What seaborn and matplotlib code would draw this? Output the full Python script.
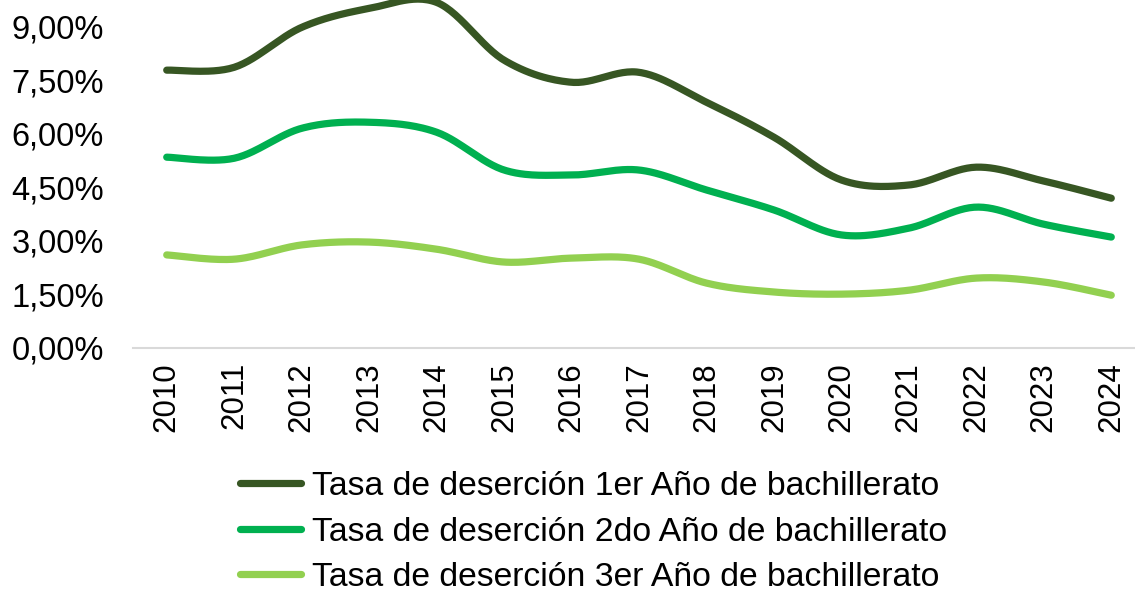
import numpy as np
import pandas as pd
import matplotlib
matplotlib.use("Agg")
import matplotlib.pyplot as plt
import seaborn as sns

years = ["2010", "2011", "2012", "2013", "2014", "2015", "2016", "2017",
         "2018", "2019", "2020", "2021", "2022", "2023", "2024"]
tasa_1er = [7.79, 7.87, 8.99, 9.52, 9.69, 8.07, 7.45, 7.73, 6.89, 5.91, 4.71, 4.57, 5.07, 4.68, 4.20]
tasa_2do = [5.35, 5.32, 6.16, 6.33, 6.05, 4.99, 4.85, 4.99, 4.43, 3.87, 3.17, 3.36, 3.95, 3.47, 3.11]
tasa_3er = [2.61, 2.49, 2.89, 2.97, 2.77, 2.41, 2.52, 2.49, 1.82, 1.57, 1.51, 1.62, 1.96, 1.85, 1.48]
labels = ["Tasa de deserción 1er Año de bachillerato",
          "Tasa de deserción 2do Año de bachillerato",
          "Tasa de deserción 3er Año de bachillerato"]
colors = ["#375623", "#00B050", "#92D050"]
yticks = [0, 1.5, 3.0, 4.5, 6.0, 7.5, 9.0]


def smooth(xs, ys, n=30):
    """Excel-like smoothed line: cubic Bezier with Catmull-Rom control points."""
    xs = np.asarray(xs, float)
    ys = np.asarray(ys, float)
    px = np.concatenate([[xs[0]], xs, [xs[-1]]])
    py = np.concatenate([[ys[0]], ys, [ys[-1]]])
    ox, oy = [], []
    t = np.linspace(0, 1, n)
    for i in range(1, len(px) - 2):
        p0 = np.array([px[i], py[i]])
        p3 = np.array([px[i + 1], py[i + 1]])
        c1 = p0 + (np.array([px[i + 1], py[i + 1]]) - np.array([px[i - 1], py[i - 1]])) / 6
        c2 = p3 - (np.array([px[i + 2], py[i + 2]]) - np.array([px[i], py[i]])) / 6
        b = ((1 - t) ** 3)[:, None] * p0 + (3 * (1 - t) ** 2 * t)[:, None] * c1 \
            + (3 * (1 - t) * t ** 2)[:, None] * c2 + (t ** 3)[:, None] * p3
        ox.extend(b[:, 0])
        oy.extend(b[:, 1])
    return np.array(ox), np.array(oy)


sns.set_theme(style="white")
plt.rcParams["font.family"] = ["Liberation Sans", "DejaVu Sans"]
plt.rcParams["text.color"] = "black"
plt.rcParams["xtick.color"] = "black"
plt.rcParams["ytick.color"] = "black"

fig = plt.figure(figsize=(11.35, 5.92), dpi=100)
ax = fig.add_axes([133 / 1135, (592 - 348) / 592, (1145 - 133) / 1135, 348 / 592])

xpos = np.arange(len(years))
frames = []
for lab, vals in zip(labels, [tasa_1er, tasa_2do, tasa_3er]):
    sx, sy = smooth(xpos, vals)
    frames.append(pd.DataFrame({"x": sx, "y": sy, "serie": lab}))
df = pd.concat(frames, ignore_index=True)

sns.lineplot(data=df, x="x", y="y", hue="serie", palette=colors, sort=False,
             estimator=None, linewidth=5.2, ax=ax, legend=True)
for line in ax.lines:
    line.set_solid_capstyle("round")
    line.set_clip_on(False)

ax.set_xlim(-0.5, len(years) - 0.5)
ax.set_ylim(0, 9.757)
ax.set_xticks(xpos)
ax.set_xticklabels(years, rotation=90, fontsize=22.5, color="black")
ax.set_yticks(yticks)
ax.set_yticklabels([f"{v:.2f}%".replace(".", ",") for v in yticks], fontsize=23.5, color="black")
ax.tick_params(axis="x", length=0, pad=10)
ax.tick_params(axis="y", length=0, pad=21)
ax.set_xlabel("")
ax.set_ylabel("")
for s in ["top", "right", "left"]:
    ax.spines[s].set_visible(False)
ax.spines["bottom"].set_color("#D9D9D9")
ax.spines["bottom"].set_linewidth(1.5)
ax.grid(False)

handles, labs = ax.get_legend_handles_labels()
ax.get_legend().remove()
leg = fig.legend(handles, labs, loc="upper left", bbox_to_anchor=(240 / 1135, 1 - 471 / 592),
                 frameon=False, fontsize=24.3, handlelength=1.82, handletextpad=0.3,
                 labelspacing=0.43, borderpad=0, borderaxespad=0)
for h in leg.get_lines():
    h.set_linewidth(5.2)
    h.set_solid_capstyle("round")
for t in leg.get_texts():
    t.set_color("black")

fig.savefig("out.png", dpi=100)
